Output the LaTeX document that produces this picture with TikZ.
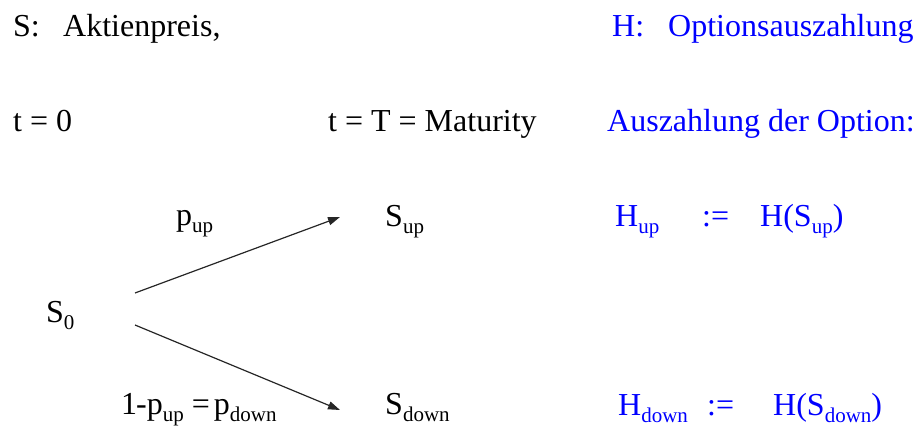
\documentclass[tikz,border=0pt]{standalone}
\usepackage{fontspec}
\setmainfont{Liberation Serif}
\newfontfamily\tnrfont{Liberation Serif}
\usetikzlibrary{arrows.meta}
\definecolor{hblue}{RGB}{0,0,255}
\newcommand{\mysub}[1]{\raisebox{-7pt}{\fontsize{21}{21}\selectfont #1}}
\tikzset{
  txt/.style={anchor=base west, inner sep=0pt, font=\tnrfont\fontsize{32}{38}\selectfont},
  btxt/.style={txt, text=hblue},
  arr/.style={line width=1.2pt, color=black!85, -{Triangle[length=12pt,width=8pt]}}
}
\begin{document}
\begin{tikzpicture}[x=1pt,y=-1pt]
\useasboundingbox (0,0) rectangle (923,427);
% header
\node[txt] (s) at (13,37) {S:};
\node[txt] (akt) at (63,37) {Aktienpreis,};
\node[btxt] (h) at (612,37) {H:};
\node[btxt] (opt) at (668,37) {Optionsauszahlung};
\node[txt] (t0) at (13,132) {t = 0};
\node[txt] (tT) at (328,132) {t = T = Maturity};
\node[btxt] (ausz) at (607,132) {Auszahlung der Option:};
% tree
\node[txt] (S0) at (46,323) {S\mysub{0}};
\node[txt] (Sup) at (385,227) {S\mysub{up}};
\node[txt] (Sdown) at (385,414) {S\mysub{down}};
\node[txt] (pup) at (176,226) {p\mysub{up}};
\node[txt] (pdown) at (121,414) {1\kern-1pt-p\mysub{up} =\kern4pt p\mysub{down}};
\coordinate (a1s) at (135,293);
\coordinate (a1e) at (340,217);
\coordinate (a2s) at (135,325);
\coordinate (a2e) at (340,410);
\draw[arr] (a1s) -- (a1e);
\draw[arr] (a2s) -- (a2e);
% payoffs
\node[btxt] (Hup) at (615,227) {H\mysub{up}};
\node[btxt] (def1) at (702,227) {:=};
\node[btxt] (HSup) at (760,227) {H(S\mysub{up})};
\node[btxt] (Hdown) at (618,415) {H\mysub{down}};
\node[btxt] (def2) at (707,415) {:=};
\node[btxt] (HSdown) at (773,415) {H(S\mysub{down})};
\end{tikzpicture}
\end{document}
